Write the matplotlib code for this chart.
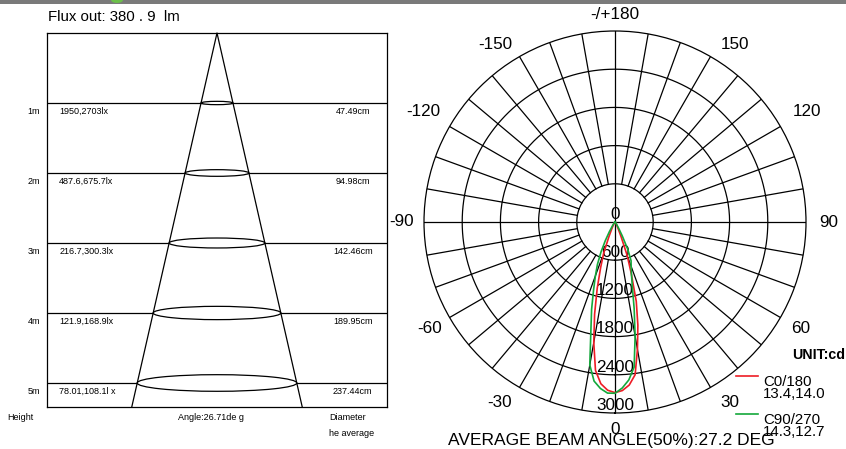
import numpy as np
import matplotlib.pyplot as plt
from matplotlib.patches import Ellipse, Rectangle
from matplotlib.lines import Line2D

plt.rcParams['font.family'] = ['Liberation Sans', 'DejaVu Sans']

W, H = 846, 449

# ---- data ----
flux_text = "Flux out: 380 . 9  lm"
heights = [1, 2, 3, 4, 5]
height_labels = ["1m", "2m", "3m", "4m", "5m"]
lux_labels = ["1950,2703lx", "487.6,675.7lx", "216.7,300.3lx", "121.9,168.9lx", "78.01,108.1l x"]
diameters = [47.49, 94.98, 142.46, 189.95, 237.44]   # cm
diameter_labels = ["47.49cm", "94.98cm", "142.46cm", "189.95cm", "237.44cm"]
beam_angle_text = "Angle:26.71de g"

# polar curves: gamma angle (deg) and intensity (cd) on each half plane
gamma = [0, 2.5, 5, 7.5, 10, 12.5, 15, 17.5, 20, 22.5, 25, 27.5, 30, 35, 40, 50, 60, 90]
c0_right = [2680, 2650, 2570, 2420, 2030, 1660, 1290, 850, 560, 250, 120, 70, 40, 15, 8, 3, 1, 0]
c0_left = [2680, 2645, 2550, 2350, 1920, 1480, 1080, 750, 520, 250, 120, 70, 40, 15, 8, 3, 1, 0]
c90_right = [2685, 2610, 2490, 2300, 1820, 1390, 1050, 860, 740, 660, 480, 250, 120, 40, 15, 5, 2, 0]
c90_left = [2690, 2690, 2625, 2520, 2280, 1750, 1420, 1120, 900, 720, 520, 330, 180, 60, 20, 6, 2, 0]
ring_values = [0, 600, 1200, 1800, 2400, 3000]
angle_ticks = [180, -150, 150, -120, 120, -90, 90, -60, 60, -30, 30, 0]
angle_tick_labels = ["-/+180", "-150", "150", "-120", "120", "-90", "90", "-60", "60", "-30", "30", "0"]
legend_names = ["C0/180", "C90/270"]
legend_values = ["13.4,14.0", "14.3,12.7"]
colors = ["#ee1c25", "#14a83b"]

fig = plt.figure(figsize=(W / 100, H / 100), dpi=100)

def fx(px):
    return px / W

def fy(py):
    return 1 - py / H

# top bar
fig.add_artist(Rectangle((0, fy(4)), 1, 4 / H, transform=fig.transFigure,
                         color="#7a7a7a", lw=0))
fig.add_artist(Ellipse((fx(117), fy(0)), 12 / W, 6 / H, transform=fig.transFigure,
                       color="#6cc04a", lw=0))

# ---- left: illuminance cone ----
ybot = 5.343
ax = fig.add_axes([fx(47), fy(407), 340 / W, 374 / H])
ax.set_xlim(-253, 253)
ax.set_ylim(ybot, 0)
ax.set_xticks([])
ax.set_yticks([])
for s in ax.spines.values():
    s.set_linewidth(0.9)

xb = diameters[-1] / 2 * ybot / heights[-1]
ax.plot([-xb, 0, xb], [ybot, 0, ybot], color="k", lw=0.9, zorder=3, clip_on=False)
for h, d, hl, ll, dl in zip(heights, diameters, height_labels, lux_labels, diameter_labels):
    ax.axhline(h, color="k", lw=0.9, zorder=1)
    ax.add_patch(Ellipse((0, h), d, d / 1000, facecolor="white", edgecolor="k",
                         lw=0.9, zorder=2))
    ax.text(-0.021, h + 0.115, hl, transform=ax.get_yaxis_transform(),
            ha="right", va="center", fontsize=6.5)
    ax.text(-235, h + 0.115, ll, ha="left", va="center", fontsize=6.5)
    ax.text(202, h + 0.115, dl, ha="center", va="center", fontsize=6.5)

fig.text(fx(48), fy(17), flux_text, ha="left", va="center", fontsize=10.8)
fig.text(fx(7), fy(417), "Height", ha="left", va="center", fontsize=6.5)
fig.text(fx(211), fy(417), beam_angle_text, ha="center", va="center", fontsize=6.5)
fig.text(fx(348), fy(417), "Diameter", ha="center", va="center", fontsize=6.5)
fig.text(fx(352), fy(433), "he average", ha="center", va="center", fontsize=6.5)

# ---- right: polar intensity ----
cx, cy, R = 615, 222, 191
pax = fig.add_axes([fx(cx - R), fy(cy + R), 2 * R / W, 2 * R / H], projection="polar")
pax.set_theta_zero_location("S")
pax.set_theta_direction(1)
pax.set_ylim(0, ring_values[-1])
pax.grid(False)
pax.set_xticks([])
pax.set_yticks([])
pax.spines["polar"].set_linewidth(0.9)
pax.patch.set_alpha(0)

th_full = np.linspace(0, 2 * np.pi, 361)
for r in ring_values[1:-1]:
    pax.plot(th_full, np.full_like(th_full, r), color="k", lw=0.9)
for a in range(-170, 181, 10):
    r0 = 0 if a % 90 == 0 else ring_values[1]
    pax.plot([np.radians(a)] * 2, [r0, ring_values[-1]], color="k", lw=0.9)

# tick labels sit just outside the rim; diagonal ones lean towards the vertical
for lbl_a, lbl in zip(angle_ticks, angle_tick_labels):
    a = lbl_a
    if abs(lbl_a) == 30:
        a = lbl_a + np.sign(lbl_a) * 2.5
    elif abs(lbl_a) == 150:
        a = lbl_a - np.sign(lbl_a) * 4
    if abs(lbl_a) in (0, 180):
        rr = 3260
    elif abs(lbl_a) == 120:
        rr = 3480
    else:
        rr = 3360
    pax.text(np.radians(a), rr, lbl, ha="center", va="center",
             fontsize=12.3, clip_on=False)
for r in ring_values:
    pax.annotate(str(r), xy=(0, r), xytext=(0, 5.5), textcoords="offset points",
                 ha="center", va="center", fontsize=12.3)

g = np.radians(gamma)
for right, left, c in [(c0_right, c0_left, colors[0]), (c90_right, c90_left, colors[1])]:
    th = np.concatenate([-g[::-1], g[1:]])
    rr = np.concatenate([left[::-1], right[1:]])
    pax.plot(th, rr, color=c, lw=1.2, zorder=4)

fig.text(fx(611), fy(440), "AVERAGE BEAM ANGLE(50%):27.2 DEG", ha="center",
         va="center", fontsize=12.5)

# legend
fig.text(fx(845), fy(355), "UNIT:cd", ha="right", va="center", fontsize=10.3,
         fontweight="bold")
for i, (name, val, c) in enumerate(zip(legend_names, legend_values, colors)):
    yl = 376 + 38 * i
    fig.add_artist(Line2D([fx(736), fx(758)], [fy(yl), fy(yl)], color=c, lw=1.2,
                          transform=fig.transFigure))
    fig.text(fx(763), fy(yl + 6), name, ha="left", va="center", fontsize=10.8)
    fig.text(fx(763), fy(yl + 18), val, ha="left", va="center", fontsize=10.8)

fig.savefig("out.png", dpi=100)
